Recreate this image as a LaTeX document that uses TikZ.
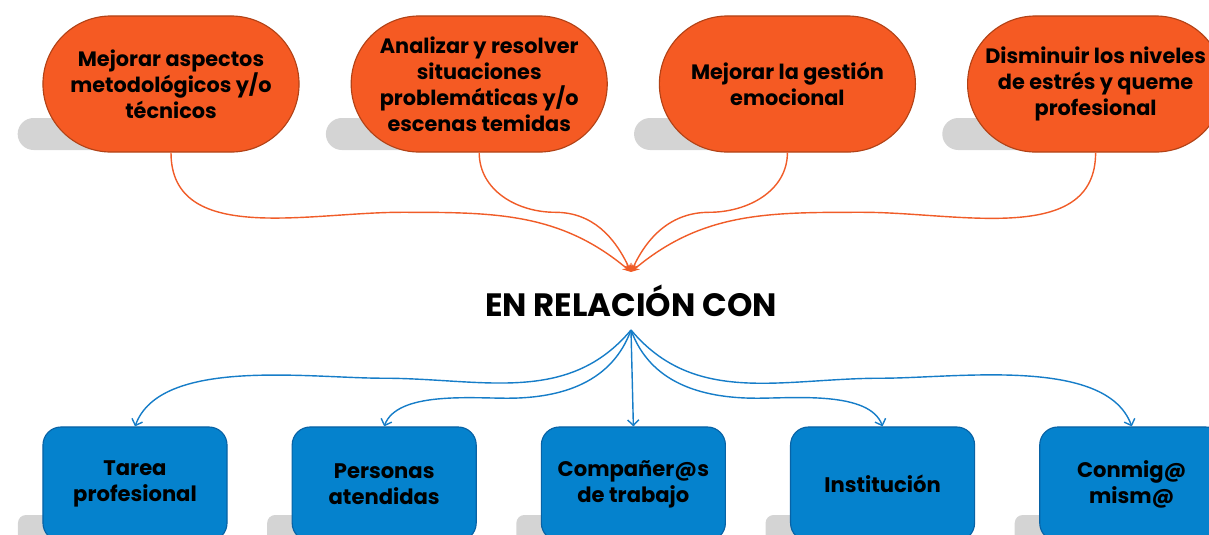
\documentclass[tikz,border=0pt]{standalone}
\usepackage{fontspec}
\setmainfont{Poppins}
\usetikzlibrary{positioning,shapes.misc,backgrounds,calc,arrows.meta}

\definecolor{pillorange}{RGB}{245,90,35}
\definecolor{pilledge}{RGB}{178,66,22}
\definecolor{boxblue}{RGB}{5,130,205}
\definecolor{boxedge}{RGB}{8,98,165}
\definecolor{linkorange}{RGB}{240,92,40}
\definecolor{linkblue}{RGB}{22,125,200}

\tikzset{
  goal/.style = {rounded rectangle, fill=pillorange, draw=pilledge, line width=0.8pt,
    minimum width=6.4cm, minimum height=3.4cm, inner sep=0pt, align=center,
    font=\bfseries\fontsize{14.8}{18.5}\selectfont},
  goalshadow/.style = {rounded rectangle, fill=black!17, minimum width=6.4cm, minimum height=0.8cm},
  area/.style = {rectangle, rounded corners=0.45cm, fill=boxblue, draw=boxedge, line width=0.8pt,
    minimum width=4.6cm, minimum height=2.85cm, inner sep=0pt, align=center,
    font=\bfseries\fontsize{15}{18.5}\selectfont},
  areashadow/.style = {rectangle, rounded corners=0.2cm, fill=black!17, minimum width=4.6cm, minimum height=0.85cm},
  tolink/.style = {draw=linkorange, line width=1pt, -{Stealth[length=6pt,width=5pt]}},
  fromlink/.style = {draw=linkblue, line width=1pt, -{Straight Barb[length=4pt,width=8pt]}},
}

\begin{document}
\begin{tikzpicture}[x=0.025cm, y=0.025cm]
    \useasboundingbox (0,0) rectangle (1209,-534);
    \clip (0,0) rectangle (1209,-534);

    % goals
    \node[goal] (p1) at (171,-84) {Mejorar aspectos\\metodológicos y/o\\técnicos};
    \node[goal] (p2) [right = 1.275cm of p1] {Analizar y resolver\\situaciones\\problemáticas y/o\\escenas temidas};
    \node[goal] (p3) [right = 1.275cm of p2] {Mejorar la gestión\\emocional};
    \node[goal] (p4) [right = 1.275cm of p3] {Disminuir los niveles\\de estrés y queme\\profesional};

    % centre
    \node (rel) at (631,-301) {\bfseries\fontsize{23}{28}\selectfont EN RELACIÓN CON};
    \coordinate (intop) at (631,-272);
    \coordinate (inbot) at (631,-330);

    % areas
    \node[area] (b1) at (135,-484) {Tarea\\profesional};
    \node[area] (b2) [right = 1.6cm of b1] {Personas\\atendidas};
    \node[area] (b3) [right = 1.6cm of b2] {Compañer@s\\de trabajo};
    \node[area] (b4) [right = 1.6cm of b3] {Institución};
    \node[area] (b5) [right = 1.6cm of b4] {Conmig@\\mism@};

    % shadows
    \begin{pgfonlayer}{background}
        \foreach \g in {p1,p2,p3,p4}
            \node[goalshadow] (\g s) at ($(\g)+(-30,-50)$) {};
        \foreach \t in {b1,b2,b3,b4,b5}
            \node[areashadow] (\t s) at ($(\t)+(-25,-48)$) {};
    \end{pgfonlayer}

    % links
    \foreach \g/\a/\b/\e in {p1/180/0/140, p2/180/0/115, p3/0/180/65, p4/0/180/40}
        \draw[tolink] (\g.south) to[out=-90,in=\a] ($(\g.south)!.5!(intop)$)
            to[out=\b,in=\e] (intop);
    \foreach \t/\d/\o/\a/\b/\e in {b1/0/230/0/180/70, b2/-20/250/0/180/70,
                                   b4/-20/290/180/0/110, b5/0/310/180/0/110}
        \draw[fromlink] (inbot) to[out=\o,in=\a] ($(inbot)!.5!(\t.north)+(0,\d)$)
            to[out=\b,in=\e,looseness=0.75] (\t.north);
    \draw[fromlink] (inbot) -- (b3.north);
\end{tikzpicture}
\end{document}
